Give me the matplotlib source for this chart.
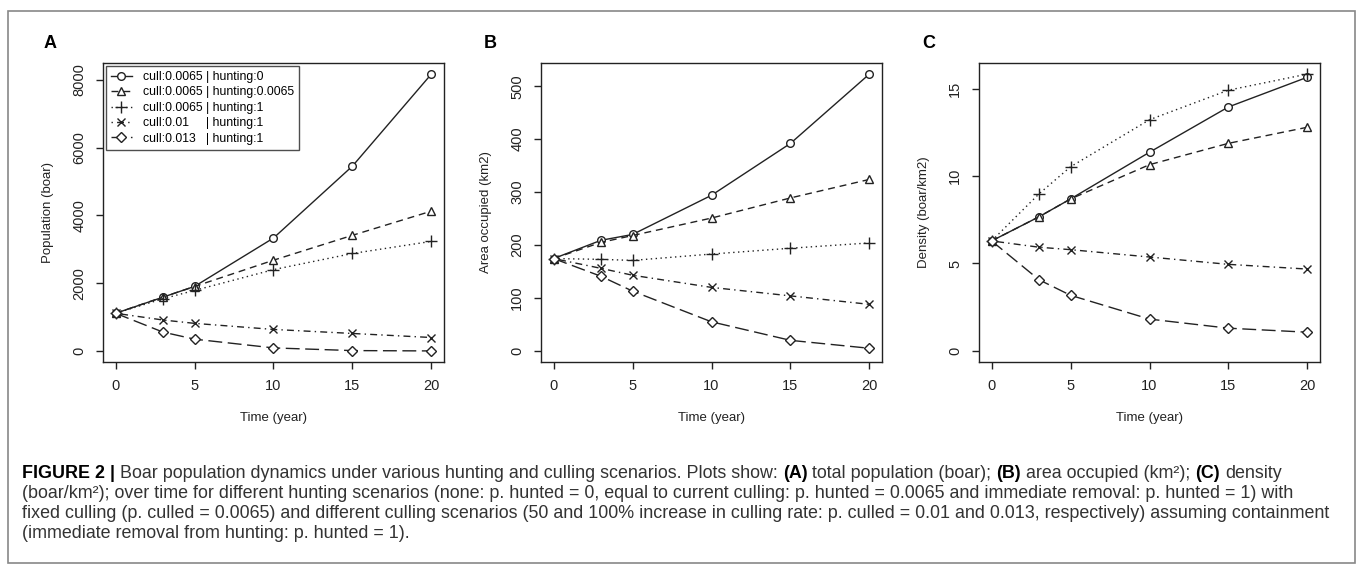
import matplotlib
matplotlib.use("Agg")
import matplotlib.pyplot as plt
from matplotlib.patches import Rectangle

plt.rcParams["font.family"] = ["Liberation Sans", "DejaVu Sans"]

years = [0, 3, 5, 10, 15, 20]
labels = ["cull:0.0065 | hunting:0",
          "cull:0.0065 | hunting:0.0065",
          "cull:0.0065 | hunting:1",
          "cull:0.01     | hunting:1",
          "cull:0.013   | hunting:1"]

# A: population (boar)
pop_h0 = [1110, 1586, 1903, 3330, 5451, 8166]
pop_h0065 = [1110, 1590, 1900, 2676, 3410, 4123]
pop_h1 = [1110, 1540, 1784, 2398, 2874, 3231]
pop_c01 = [1110, 912, 813, 634, 515, 396]
pop_c013 = [1110, 555, 347, 89, 10, 0]

# B: area occupied (km2)
area_h0 = [174.5, 209, 220, 294, 392, 523]
area_h0065 = [174.5, 205, 218, 251, 289, 324]
area_h1 = [174.5, 173, 171, 183, 194, 204]
area_c01 = [174.5, 156, 143, 120, 104, 88]
area_c013 = [174.5, 141, 113, 55, 20, 5]

# C: density (boar/km2)
dens_h0 = [6.29, 7.67, 8.69, 11.36, 13.95, 15.65]
dens_h0065 = [6.29, 7.67, 8.69, 10.65, 11.87, 12.79]
dens_h1 = [6.29, 8.98, 10.53, 13.22, 14.91, 15.83]
dens_c01 = [6.29, 5.93, 5.79, 5.37, 4.95, 4.68]
dens_c013 = [6.29, 4.07, 3.18, 1.82, 1.30, 1.07]

panels = [
    ("A", "Population (boar)", [pop_h0, pop_h0065, pop_h1, pop_c01, pop_c013], [0, 2000, 4000, 6000, 8000]),
    ("B", "Area occupied (km2)", [area_h0, area_h0065, area_h1, area_c01, area_c013], [0, 100, 200, 300, 400, 500]),
    ("C", "Density (boar/km2)", [dens_h0, dens_h0065, dens_h1, dens_c01, dens_c013], [0, 5, 10, 15]),
]

# R-like lty / pch
styles = [
    dict(ls="-", marker="o", ms=5.5),
    dict(ls=(0, (5, 3.5)), marker="^", ms=6),
    dict(ls=(0, (1, 2.5)), marker="+", ms=8),
    dict(ls=(0, (1, 3, 5, 3)), marker="x", ms=6),
    dict(ls=(0, (10, 4)), marker="D", ms=5),
]

W, H = 1357, 565
fig = plt.figure(figsize=(W / 100, H / 100), dpi=100)
ink = "#222222"

ax_left = [103, 541, 979]
letter_x = [50, 490, 929]
ax_w, ax_top, ax_bot = 341, 63, 362

for i, (letter, ylab, series, yticks) in enumerate(panels):
    ax = fig.add_axes([ax_left[i] / W, 1 - ax_bot / H, ax_w / W, (ax_bot - ax_top) / H])
    for vals, st, lab in zip(series, styles, labels):
        ax.plot(years, vals, color=ink, lw=1.0, ls=st["ls"], marker=st["marker"],
                ms=st["ms"], mfc="white", mec=ink, mew=1.0, label=lab)
    ymax = max(max(s) for s in series)
    ax.set_ylim(-0.04 * ymax, 1.04 * ymax)
    ax.set_xlim(-0.8, 20.8)
    ax.set_xticks([0, 5, 10, 15, 20])
    ax.set_yticks(yticks)
    ax.tick_params(direction="out", length=5, width=1, colors=ink, labelsize=10.5, pad=7)
    for lbl in ax.get_yticklabels():
        lbl.set_rotation(90)
        lbl.set_va("center")
    for sp in ax.spines.values():
        sp.set_color(ink)
        sp.set_linewidth(1.0)
    ax.set_ylabel(ylab, fontsize=9.5, color=ink)
    ax.set_xlabel("Time (year)", fontsize=9.5, color=ink)
    ax.yaxis.set_label_coords(-0.16, 0.5)
    ax.xaxis.set_label_coords(0.5, -0.187)
    ax.xaxis.label.set_va("center")
    ax.yaxis.label.set_va("center")
    fig.text(letter_x[i] / W, 1 - 43 / H, letter, ha="center", va="center",
             fontsize=13, fontweight="bold", color="black")
    if i == 0:
        leg = ax.legend(loc="upper left", fontsize=8.8, frameon=True, fancybox=False,
                        edgecolor=ink, handlelength=1.7, handletextpad=0.9,
                        labelspacing=0.28, borderpad=0.4, borderaxespad=0.25)
        leg.get_frame().set_linewidth(1.0)

# outer frame of the figure panel
fig.add_artist(Rectangle((8 / W, 2 / H), (1355 - 8) / W, (563 - 11) / H,
                         transform=fig.transFigure, fill=False, edgecolor="#888888", lw=1.2))

# caption, drawn in pieces so bold parts sit inline
cap = fig.add_axes([0, 0, 1, 1])
cap.axis("off")
body = "#333333"
caption_lines = [
    [("FIGURE 2 |", "bold", "black"),
     ("Boar population dynamics under various hunting and culling scenarios. Plots show:", "normal", body),
     ("(A)", "bold", "black"), ("total population (boar);", "normal", body),
     ("(B)", "bold", "black"), ("area occupied (km\u00b2);", "normal", body),
     ("(C)", "bold", "black"), ("density", "normal", body)],
    [("(boar/km\u00b2); over time for different hunting scenarios (none: p. hunted = 0, equal to current "
      "culling: p. hunted = 0.0065 and immediate removal: p. hunted = 1) with", "normal", body)],
    [("fixed culling (p. culled = 0.0065) and different culling scenarios (50 and 100% increase in "
      "culling rate: p. culled = 0.01 and 0.013, respectively) assuming containment", "normal", body)],
    [("(immediate removal from hunting: p. hunted = 1).", "normal", body)],
]
cap_size = 12.9
line_y = [473, 494, 513, 533]
for y, parts in zip(line_y, caption_lines):
    prev = None
    for text, weight, col in parts:
        if prev is None:
            prev = cap.text(22 / W, 1 - y / H, text, transform=fig.transFigure, ha="left",
                            va="center", fontsize=cap_size, fontweight=weight, color=col)
        else:
            prev = cap.annotate(text, xy=(1, 0.5), xycoords=prev, xytext=(3.6, 0),
                                textcoords="offset points", ha="left", va="center",
                                fontsize=cap_size, fontweight=weight, color=col)

fig.savefig("out.png", dpi=100)
